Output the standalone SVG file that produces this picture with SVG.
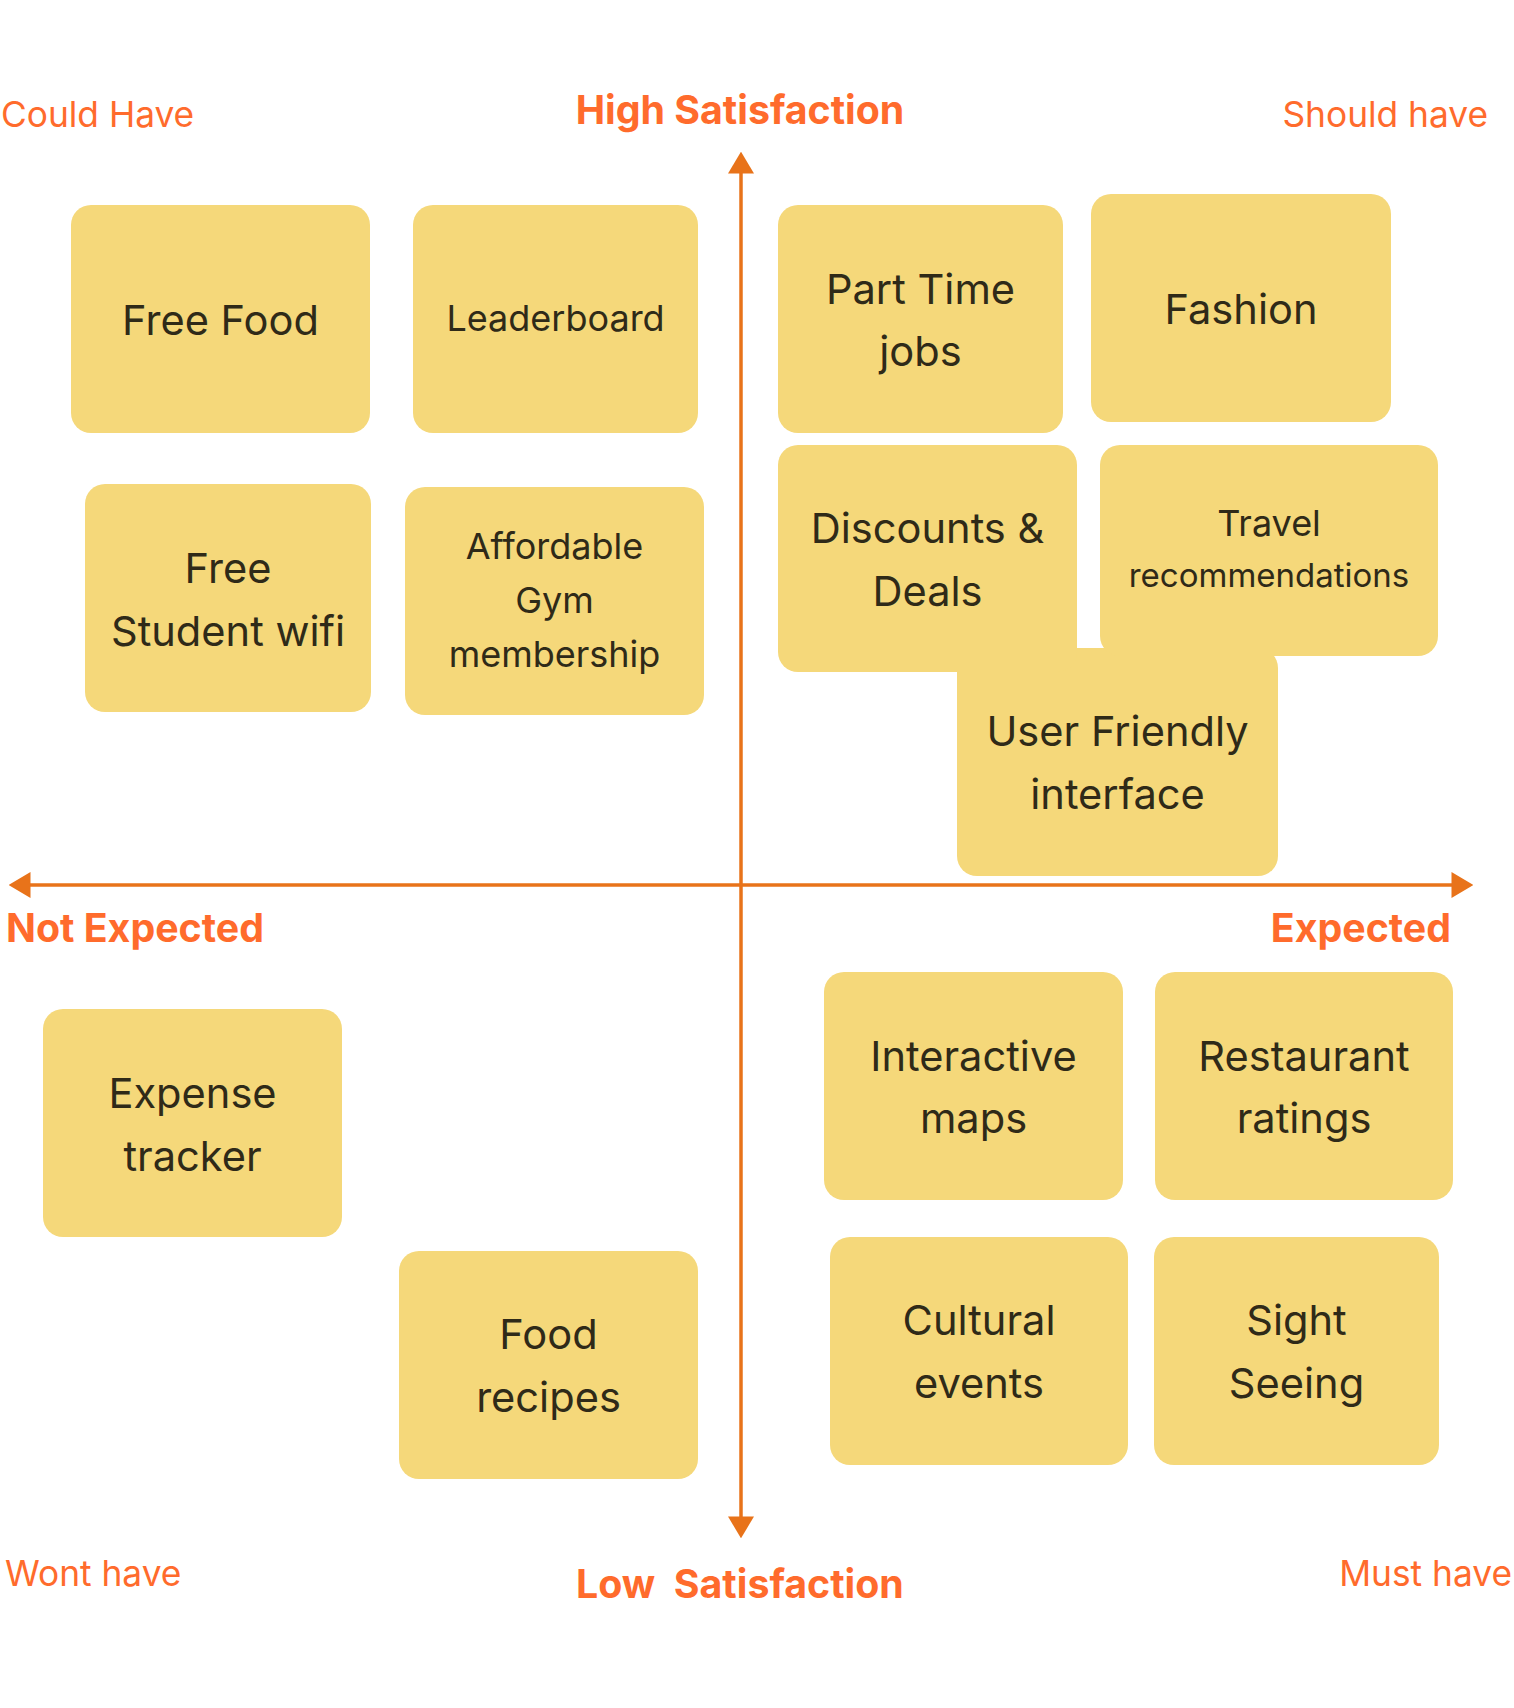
<svg xmlns="http://www.w3.org/2000/svg" width="1514" height="1708" viewBox="0 0 1514 1708">
<style>
.box{fill:#F5D87A}
.t{font-family:Inter,"Liberation Sans",sans-serif;fill:#2F2A18;text-anchor:middle}
.big{font-size:41.6px}
.sm{font-size:36px}
.lab{font-family:Inter,"Liberation Sans",sans-serif;fill:#FF6B2C;font-size:35.3px}
.bl{font-family:Inter,"Liberation Sans",sans-serif;fill:#FF6B2C;font-size:39.3px;font-weight:700}
.ax{stroke:#E8731A;stroke-width:3.5;fill:none}
</style>
<defs>
<marker id="ah" markerUnits="userSpaceOnUse" markerWidth="22" markerHeight="26" viewBox="0 0 21 25" refX="0.5" refY="12.5" orient="auto-start-reverse">
<path d="M0,0 L21,12.5 L0,25 z" fill="#E8731A"/>
</marker>
</defs>
<rect width="1514" height="1708" fill="#ffffff"/>

<g id="axes">
<line class="ax" x1="741" y1="1517" x2="741" y2="173" marker-start="url(#ah)" marker-end="url(#ah)"/>
<line class="ax" x1="30" y1="885" x2="1452" y2="885" marker-start="url(#ah)" marker-end="url(#ah)"/>
</g>

<g id="labels">
<text class="lab" x="1" y="127">Could Have</text>
<text class="bl" x="740" y="124" text-anchor="middle">High Satisfaction</text>
<text class="lab" x="1488" y="127" text-anchor="end">Should have</text>
<text class="bl" x="6" y="942">Not Expected</text>
<text class="bl" x="1451" y="942" text-anchor="end">Expected</text>
<text class="lab" x="5" y="1586">Wont have</text>
<text class="bl" x="576" y="1598" xml:space="preserve">Low  Satisfaction</text>
<text class="lab" x="1512" y="1586" text-anchor="end">Must have</text>
</g>

<g id="free-food">
<rect class="box" x="71" y="205" width="299" height="228" rx="20"/>
<text class="t big" x="220.5" y="335">Free Food</text>
</g>
<g id="leaderboard">
<rect class="box" x="413" y="205" width="285" height="228" rx="20"/>
<text class="t sm" x="555.5" y="331">Leaderboard</text>
</g>
<g id="part-time-jobs">
<rect class="box" x="778" y="205" width="285" height="228" rx="20"/>
<text class="t big" x="920.5" y="304">Part Time</text>
<text class="t big" x="920.5" y="366">jobs</text>
</g>
<g id="fashion">
<rect class="box" x="1091" y="194" width="300" height="228" rx="20"/>
<text class="t big" x="1241" y="324">Fashion</text>
</g>
<g id="free-student-wifi">
<rect class="box" x="85" y="484" width="286" height="228" rx="20"/>
<text class="t big" x="228" y="583">Free</text>
<text class="t big" x="228" y="646">Student wifi</text>
</g>
<g id="affordable-gym">
<rect class="box" x="405" y="487" width="299" height="228" rx="20"/>
<text class="t sm" x="554.5" y="559">Affordable</text>
<text class="t sm" x="554.5" y="613">Gym</text>
<text class="t sm" x="554.5" y="667">membership</text>
</g>
<g id="user-friendly">
<rect class="box" x="957" y="648" width="321" height="228" rx="20"/>
<text class="t big" x="1117.5" y="746">User Friendly</text>
<text class="t big" x="1117.5" y="809">interface</text>
</g>
<g id="discounts">
<rect class="box" x="778" y="445" width="299" height="227" rx="20"/>
<text class="t big" x="927.5" y="543">Discounts &amp;</text>
<text class="t big" x="927.5" y="606">Deals</text>
</g>
<g id="travel">
<rect class="box" x="1100" y="445" width="338" height="211" rx="20"/>
<text class="t sm" x="1269" y="536">Travel</text>
<text class="t" style="font-size:33px" x="1269" y="587">recommendations</text>
</g>
<g id="expense-tracker">
<rect class="box" x="43" y="1009" width="299" height="228" rx="20"/>
<text class="t big" x="192.5" y="1108">Expense</text>
<text class="t big" x="192.5" y="1171">tracker</text>
</g>
<g id="food-recipes">
<rect class="box" x="399" y="1251" width="299" height="228" rx="20"/>
<text class="t big" x="548.5" y="1349">Food</text>
<text class="t big" x="548.5" y="1412">recipes</text>
</g>
<g id="interactive-maps">
<rect class="box" x="824" y="972" width="299" height="228" rx="20"/>
<text class="t big" x="973.5" y="1071">Interactive</text>
<text class="t big" x="973.5" y="1133">maps</text>
</g>
<g id="restaurant-ratings">
<rect class="box" x="1155" y="972" width="298" height="228" rx="20"/>
<text class="t big" x="1304" y="1071">Restaurant</text>
<text class="t big" x="1304" y="1133">ratings</text>
</g>
<g id="cultural-events">
<rect class="box" x="830" y="1237" width="298" height="228" rx="20"/>
<text class="t big" x="979" y="1335">Cultural</text>
<text class="t big" x="979" y="1398">events</text>
</g>
<g id="sight-seeing">
<rect class="box" x="1154" y="1237" width="285" height="228" rx="20"/>
<text class="t big" x="1296.5" y="1335">Sight</text>
<text class="t big" x="1296.5" y="1398">Seeing</text>
</g>
</svg>
